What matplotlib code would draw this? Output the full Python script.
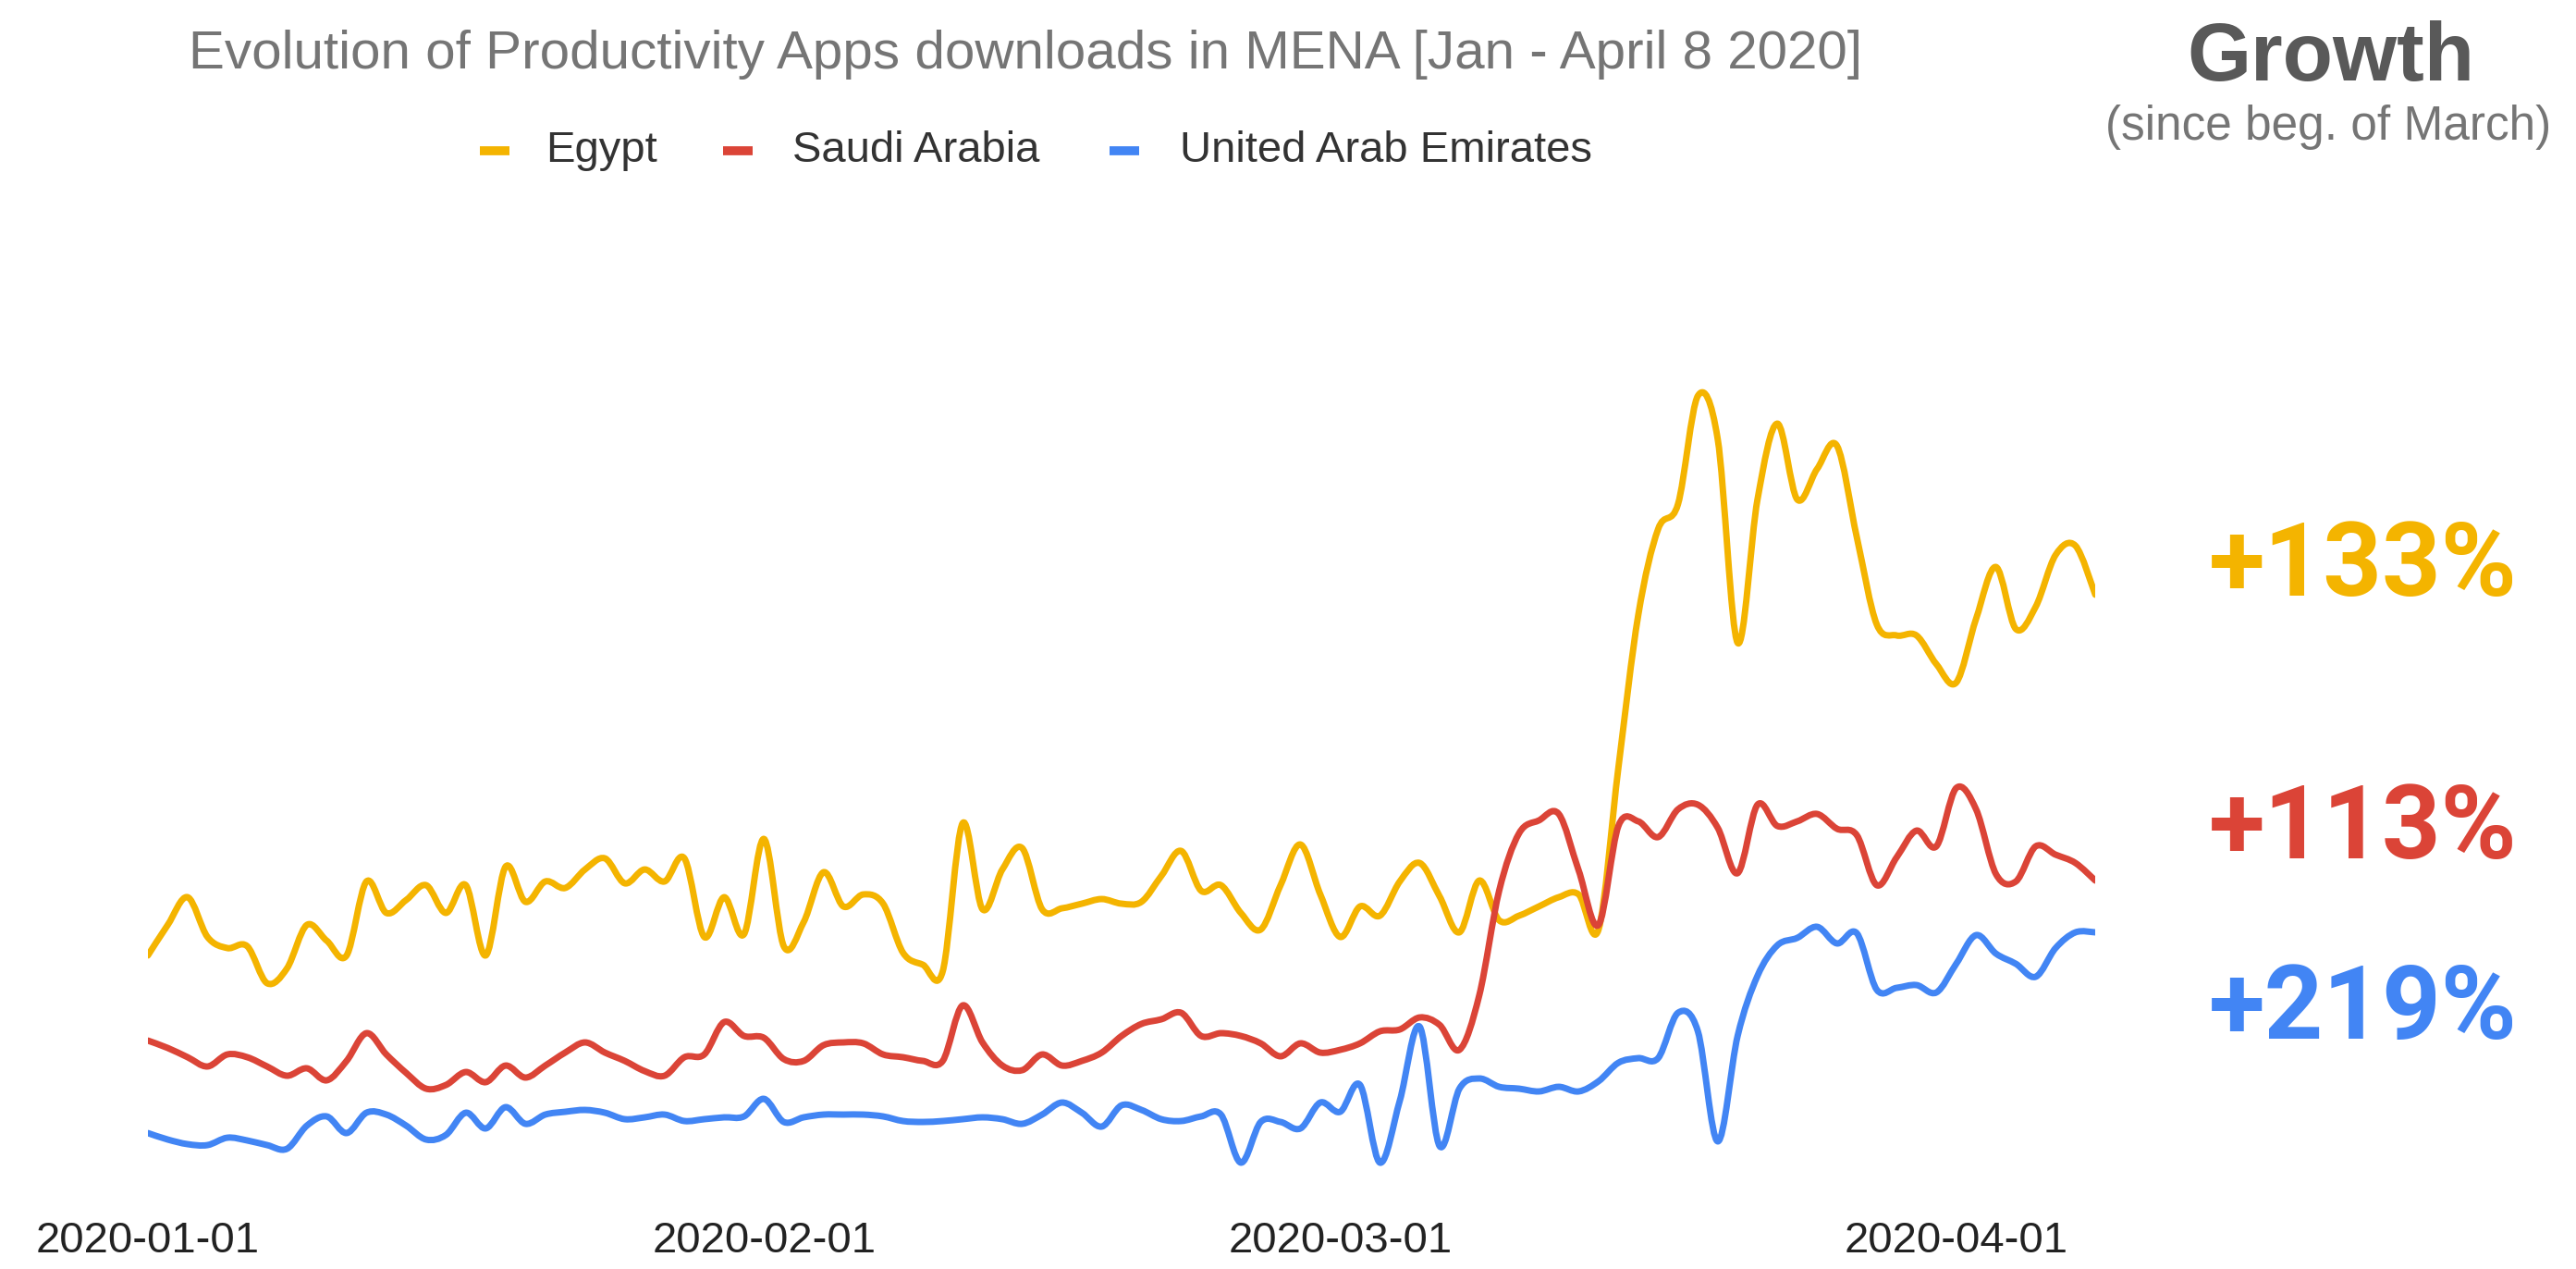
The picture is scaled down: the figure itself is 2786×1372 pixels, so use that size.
import numpy as np
import pandas as pd
import matplotlib.pyplot as plt
import matplotlib.dates as mdates
from matplotlib.lines import Line2D
from matplotlib.path import Path
from matplotlib.patches import PathPatch

# Daily downloads index, 2020-01-01 .. 2020-04-08
dates = pd.date_range('2020-01-01', '2020-04-08', freq='D')

egypt = [262, 295, 325, 282, 270, 272, 232, 248, 295, 278,
         262, 342, 308, 322, 338, 308, 338, 262, 358, 320,
         342, 335, 355, 367, 340, 355, 342, 367, 282, 325,
         285, 388, 272, 298, 352, 315, 328, 318, 265, 252,
         245, 405, 312, 355, 378, 312, 313, 318, 323, 318,
         320, 348, 375, 332, 338, 308, 290, 338, 382, 328,
         282, 315, 305, 342, 362, 326, 287, 343, 300, 305,
         315, 325, 328, 290, 465, 630, 723, 750, 867, 820,
         600, 755, 837, 755, 788, 813, 714, 620, 608, 608,
         577, 557, 626, 682, 615, 639, 695, 705, 652]

saudi = [170, 162, 152, 142, 155, 152, 142, 132, 140, 127,
         148, 178, 155, 135, 118, 122, 136, 125, 143, 130,
         143, 157, 168, 157, 148, 137, 132, 152, 155, 190,
         175, 173, 150, 148, 165, 168, 167, 155, 152, 148,
         148, 208, 168, 143, 138, 155, 143, 148, 157, 175,
         188, 193, 200, 175, 178, 175, 167, 153, 167, 157,
         160, 167, 180, 182, 195, 187, 160, 219, 332, 394,
         408, 415, 354, 295, 402, 407, 390, 420, 425, 400,
         351, 425, 402, 407, 415, 399, 392, 338, 368, 397,
         380, 443, 420, 350, 342, 380, 371, 362, 343]

uae = [70, 63, 58, 57, 65, 62, 57, 53, 78, 88,
       70, 92, 90, 78, 63, 68, 92, 75, 98, 80,
       90, 93, 95, 92, 85, 87, 90, 83, 85, 87,
       88, 107, 82, 87, 90, 90, 90, 88, 83, 82,
       83, 85, 87, 85, 80, 90, 103, 92, 77, 100,
       95, 85, 83, 88, 90, 38, 82, 82, 75, 103,
       93, 122, 38, 105, 185, 56, 118, 129, 120, 118,
       115, 120, 115, 126, 146, 151, 151, 200, 180, 61,
       175, 240, 273, 281, 293, 275, 286, 225, 227, 230,
       222, 253, 284, 264, 253, 239, 270, 287, 287]

countries = ['Egypt', 'Saudi Arabia', 'United Arab Emirates']
series = [egypt, saudi, uae]
colors = ['#F4B400', '#DB4437', '#4285F4']
growth_labels = ['+133%', '+113%', '+219%']
tick_dates = ['2020-01-01', '2020-02-01', '2020-03-01', '2020-04-01']


def smooth_path(x, y):
    """Catmull-Rom curve through every point, as cubic Bezier segments."""
    x = np.asarray(x, dtype=float)
    y = np.asarray(y, dtype=float)
    px = np.concatenate([[x[0]], x, [x[-1]]])
    py = np.concatenate([[y[0]], y, [y[-1]]])
    verts = [(x[0], y[0])]
    codes = [Path.MOVETO]
    for i in range(1, len(px) - 2):
        c1 = (px[i] + (px[i + 1] - px[i - 1]) / 6, py[i] + (py[i + 1] - py[i - 1]) / 6)
        c2 = (px[i + 1] - (px[i + 2] - px[i]) / 6, py[i + 1] - (py[i + 2] - py[i]) / 6)
        verts += [c1, c2, (px[i + 1], py[i + 1])]
        codes += [Path.CURVE4] * 3
    return Path(verts, codes)


plt.rcParams['font.family'] = ['Liberation Sans', 'DejaVu Sans']

fig = plt.figure(figsize=(27.86, 13.72), dpi=100)
ax = fig.add_axes([0.0574, 0.0561, 0.756, 0.656])

xnum = mdates.date2num(dates)
for values, color in zip(series, colors):
    ax.add_patch(PathPatch(smooth_path(xnum, values), facecolor='none', edgecolor=color,
                           linewidth=5, joinstyle='round', capstyle='round'))

ax.set_xlim(dates[0], dates[-1])
ax.set_ylim(0, 900)
ax.set_yticks([])
ax.set_xticks(pd.to_datetime(tick_dates))
ax.set_xticklabels(tick_dates, fontsize=34, color='#222222')
ax.tick_params(axis='x', length=0, pad=18)
for side in ['top', 'right', 'bottom', 'left']:
    ax.spines[side].set_visible(False)
ax.patch.set_alpha(0)

# Title
fig.text(0.398, 0.957, 'Evolution of Productivity Apps downloads in MENA [Jan - April 8 2020]',
         ha='center', va='center', fontsize=42, color='#757575')

# Legend row
legend_x = [(0.1862, 0.2118), (0.2807, 0.3077), (0.4307, 0.4580)]
for (x0, xt), name, color in zip(legend_x, countries, colors):
    fig.add_artist(Line2D([x0, x0 + 0.0115], [0.8815, 0.8815], color=color,
                          linewidth=7, solid_capstyle='butt', transform=fig.transFigure))
    fig.text(xt, 0.8815, name, ha='left', va='center', fontsize=34, color='#333333')

# Growth panel
fig.text(0.905, 0.953, 'Growth', ha='center', va='center', fontsize=64,
         fontweight='bold', color='#595959')
fig.text(0.904, 0.900, '(since beg. of March)', ha='center', va='center',
         fontsize=37, color='#757575')
for label, color, y in zip(growth_labels, colors, [0.553, 0.3455, 0.2035]):
    fig.text(0.9175, y, label, ha='center', va='center', fontsize=80,
             fontweight='bold', color=color, family=['Roboto', 'DejaVu Sans'])

fig.savefig('out.png', dpi=100)
